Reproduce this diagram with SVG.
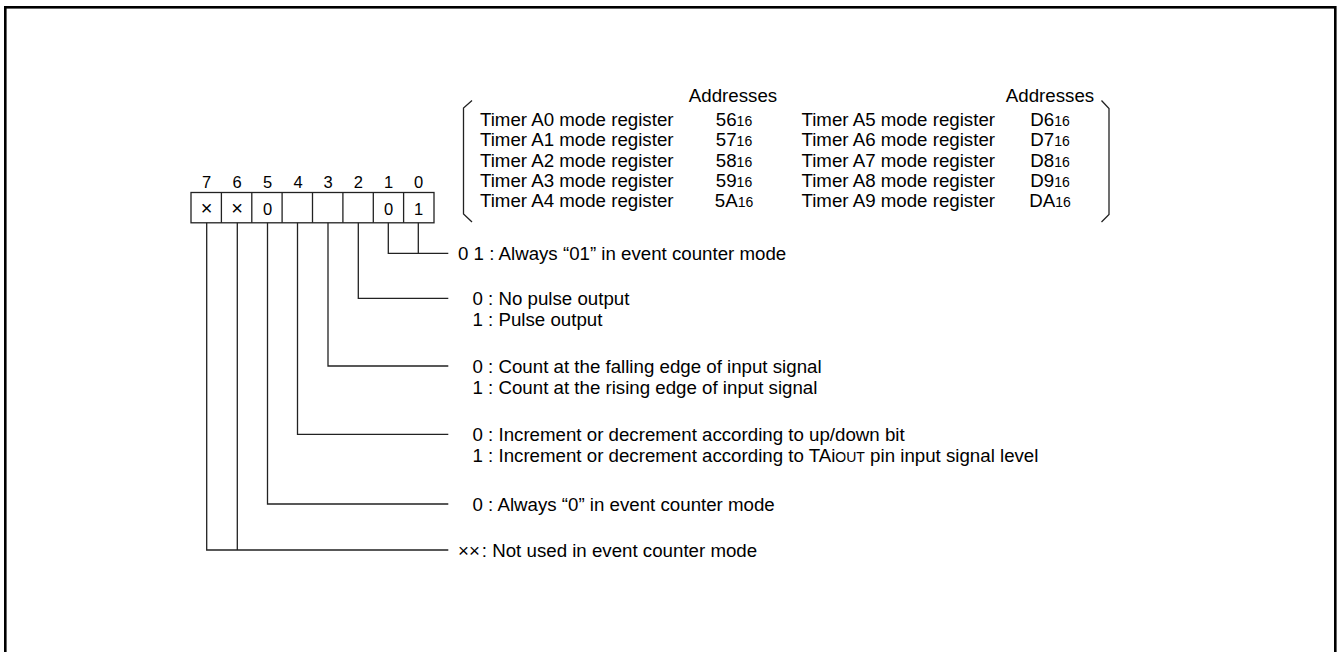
<svg xmlns="http://www.w3.org/2000/svg" width="1338" height="652" viewBox="0 0 1338 652">
<style>
text{font-family:"Liberation Sans",Arial,sans-serif;fill:#000}
.t{font-size:18.7px}
.s{font-size:14px}
.b{font-size:16.5px;text-anchor:middle}
.c{font-size:16.5px;text-anchor:middle}
.x{font-size:20px;text-anchor:middle}
.m{text-anchor:middle}
.ln{fill:none;stroke:#222;stroke-width:1.3}
</style>
<rect x="5.3" y="7.3" width="1330" height="700" fill="#fff" stroke="#000" stroke-width="2.6"/>
<g id="register">
<rect class="ln" x="191" y="192.5" width="243" height="30.3" stroke="#000"/>
<path class="ln" d="M221.4 192.5V222.8M251.8 192.5V222.8M282.1 192.5V222.8M312.5 192.5V222.8M342.9 192.5V222.8M373.3 192.5V222.8M403.6 192.5V222.8"/>
<text class="b" x="206.5" y="188">7</text>
<text class="b" x="237" y="188">6</text>
<text class="b" x="267.5" y="188">5</text>
<text class="b" x="298" y="188">4</text>
<text class="b" x="328" y="188">3</text>
<text class="b" x="358.3" y="188">2</text>
<text class="b" x="388.5" y="188">1</text>
<text class="b" x="418.5" y="188">0</text>
<text class="x" x="206.5" y="214.5">×</text>
<text class="x" x="237" y="214.5">×</text>
<text class="c" x="267.5" y="215.3">0</text>
<text class="c" x="388.5" y="215.3">0</text>
<text class="c" x="418.5" y="215.3">1</text>
</g>
<g id="addresses">
<path class="ln" d="M472 100.5L463.5 108V214L472 222"/>
<path class="ln" d="M1101.5 100.5L1109 108.5V214.5L1101.5 222"/>
<text class="t m" x="733" y="102">Addresses</text>
<text class="t m" x="1050" y="102">Addresses</text>
<text class="t" x="480" y="125.8">Timer A0 mode register</text>
<text class="t" x="480" y="146.2">Timer A1 mode register</text>
<text class="t" x="480" y="166.6">Timer A2 mode register</text>
<text class="t" x="480" y="187">Timer A3 mode register</text>
<text class="t" x="480" y="207.4">Timer A4 mode register</text>
<text class="t m" x="734" y="125.8">56<tspan class="s">16</tspan></text>
<text class="t m" x="734" y="146.2">57<tspan class="s">16</tspan></text>
<text class="t m" x="734" y="166.6">58<tspan class="s">16</tspan></text>
<text class="t m" x="734" y="187">59<tspan class="s">16</tspan></text>
<text class="t m" x="734" y="207.4">5A<tspan class="s">16</tspan></text>
<text class="t" x="801.5" y="125.8">Timer A5 mode register</text>
<text class="t" x="801.5" y="146.2">Timer A6 mode register</text>
<text class="t" x="801.5" y="166.6">Timer A7 mode register</text>
<text class="t" x="801.5" y="187">Timer A8 mode register</text>
<text class="t" x="801.5" y="207.4">Timer A9 mode register</text>
<text class="t m" x="1050" y="125.8">D6<tspan class="s">16</tspan></text>
<text class="t m" x="1050" y="146.2">D7<tspan class="s">16</tspan></text>
<text class="t m" x="1050" y="166.6">D8<tspan class="s">16</tspan></text>
<text class="t m" x="1050" y="187">D9<tspan class="s">16</tspan></text>
<text class="t m" x="1050" y="207.4">DA<tspan class="s">16</tspan></text>
</g>
<g id="connectors">
<path class="ln" d="M388.3 222.8V253.3H448.3M418.3 222.8V253.3"/>
<path class="ln" d="M358.3 222.8V298.3H448.3"/>
<path class="ln" d="M328 222.8V366H448.3"/>
<path class="ln" d="M297.5 222.8V434.3H448.3"/>
<path class="ln" d="M267.5 222.8V504H448.3"/>
<path class="ln" d="M237.3 222.8V550M206.7 222.8V550H448.3"/>
</g>
<g id="desc-bit10"><text class="t" x="458" y="260">0 1 : Always “01” in event counter mode</text></g>
<g id="desc-bit2">
<text class="t" x="472.5" y="305">0 : No pulse output</text>
<text class="t" x="472.5" y="326">1 : Pulse output</text>
</g>
<g id="desc-bit3">
<text class="t" x="472.5" y="372.6">0 : Count at the falling edge of input signal</text>
<text class="t" x="472.5" y="393.6">1 : Count at the rising edge of input signal</text>
</g>
<g id="desc-bit4">
<text class="t" x="472.5" y="441">0 : Increment or decrement according to up/down bit</text>
<text class="t" x="472.5" y="462">1 : Increment or decrement according to TAi<tspan class="s">OUT</tspan> pin input signal level</text>
</g>
<g id="desc-bit5"><text class="t" x="472.5" y="510.6">0 : Always “0” in event counter mode</text></g>
<g id="desc-bit76"><text class="t" x="458" y="556.6">××<tspan dx="2">:</tspan> Not used in event counter mode</text></g>
</svg>
